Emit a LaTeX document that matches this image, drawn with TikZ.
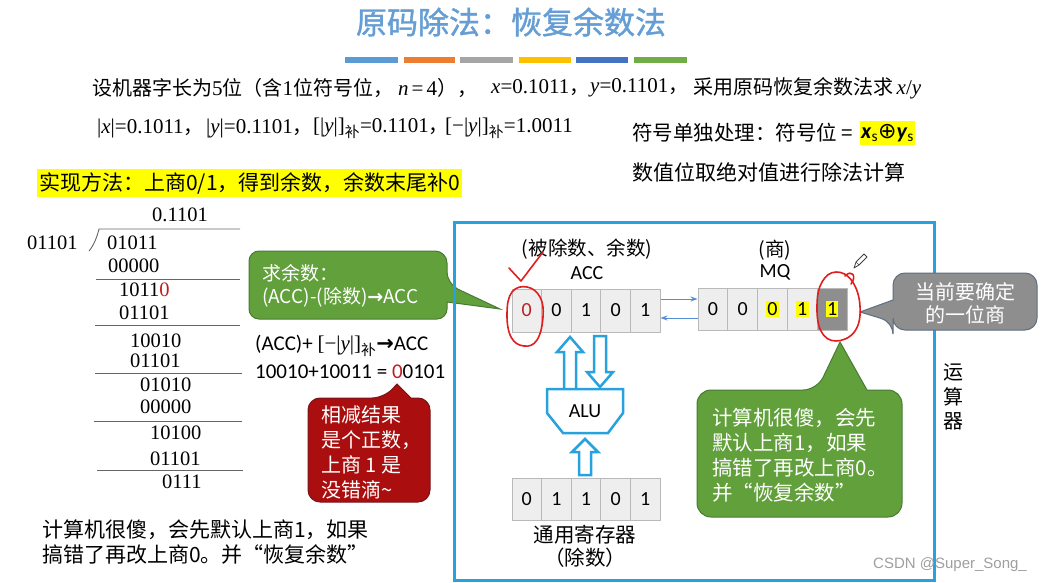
\documentclass[tikz,border=0pt]{standalone}
\usepackage{fontspec}
\setmainfont{Liberation Serif}
\newfontfamily\cjk{Noto Sans CJK SC}
\newfontfamily\cjkbold{Noto Sans CJK SC}[FakeBold=1.2]
\newfontfamily\calfont{Carlito}
\newfontfamily\dvfont{DejaVu Sans}
\newfontfamily\lsans{Liberation Sans}
\usetikzlibrary{arrows.meta}
\definecolor{titleblue}{RGB}{100,158,212}
\definecolor{boxblue}{RGB}{40,162,222}
\definecolor{arrblue}{RGB}{84,141,212}
\definecolor{cgreen}{RGB}{98,160,60}
\definecolor{cgreenb}{RGB}{72,122,52}
\definecolor{cred}{RGB}{170,14,14}
\definecolor{credb}{RGB}{120,20,30}
\definecolor{cgray}{RGB}{142,142,142}
\definecolor{cgrayb}{RGB}{95,110,130}
\definecolor{hl}{RGB}{255,255,0}
\definecolor{penred}{RGB}{225,30,30}
\definecolor{numred}{RGB}{190,30,30}
\definecolor{cellfill}{RGB}{238,238,238}
\definecolor{cellline}{RGB}{185,185,185}
\definecolor{barA}{RGB}{91,155,213}
\definecolor{barB}{RGB}{237,125,49}
\definecolor{barC}{RGB}{165,165,165}
\definecolor{barD}{RGB}{255,192,0}
\definecolor{barE}{RGB}{68,114,196}
\definecolor{barF}{RGB}{112,173,71}
\newcommand\hld[1]{{\setlength{\fboxsep}{1.2pt}\colorbox{hl}{#1}}}
\tikzset{
  txt/.style={inner sep=0pt, anchor=west},
  ctr/.style={inner sep=0pt},
  seg/.style={txt, font=\fontsize{21}{24}\selectfont},
  cell/.style={draw=cellline, fill=cellfill, line width=1pt, inner sep=0pt,
    minimum width=29.6pt, minimum height=43pt, font=\calfont\fontsize{20}{24}\selectfont},
  mqcell/.style={cell, minimum width=29.8pt, minimum height=42pt},
  hollow/.style={draw=boxblue, fill=white, line width=2.5pt, line join=miter},
  pen/.style={draw=penred, line width=1.6pt, line cap=round, line join=round},
  divline/.style={draw=gray!80!black, line width=0.9pt},
  num/.style={txt, font=\fontsize{20.5}{24}\selectfont},
}
\newcommand\zh[1]{{\cjk\fontsize{20}{24}\selectfont #1}}
\begin{document}
\begin{tikzpicture}[x=1pt,y=-1pt]
\useasboundingbox[fill=white] (0,0) rectangle (1050,583);

% title and bars
\node[ctr, text=titleblue, font=\cjkbold\fontsize{31}{36}\selectfont] (title) at (511,22) {原码除法：恢复余数法};
\fill[barA] (345,57) rectangle (398,63);
\fill[barB] (404,57) rectangle (455,63);
\fill[barC] (460,57) rectangle (513,63);
\fill[barD] (519,57) rectangle (571,63);
\fill[barE] (576,57) rectangle (628,63);
\fill[barF] (634,57) rectangle (687,63);

% top text, line 1
\node[seg] (l1a) at (92,88) {\zh{设机器字长为}5\zh{位（含}1\zh{位符号位，}};
\node[seg] (l1b) at (398,88) {\textit{n}\hspace{3pt}=\hspace{3pt}4\zh{），}};
\node[seg] (l1c) at (491,88) {\textit{x}=0.1011\zh{，}};
\node[seg] (l1d) at (590,88) {\textit{y}=0.1101\zh{，}};
\node[seg] (l1e) at (693,88) {\zh{采用原码恢复余数法求}\,\textit{x}/\textit{y}};
% line 2
\node[seg] (l2a) at (97,128) {|\textit{x}|=0.1011\zh{，}};
\node[seg] (l2b) at (206,128) {|\textit{y}|=0.1101\zh{，}};
\node[seg] (l2c) at (313,128) {[|\textit{y}|]\textsubscript{\cjk 补}=0.1101\zh{，}};
\node[seg] (l2d) at (445,128) {[−|\textit{y}|]\textsubscript{\cjk 补}=1.0011};

\node[txt, font=\cjk\fontsize{20.5}{24}\selectfont] (sym) at (632,133) {符号单独处理：符号位 =};
\node[anchor=west, fill=hl, inner xsep=1pt, inner ysep=3pt, font=\calfont\fontsize{22}{24}\selectfont] (xor) at (860,133) {\textbf{\textit{x}}\textsubscript{s}{\dvfont ⊕}\textbf{\textit{y}}\textsubscript{s}};
\node[txt, font=\cjk\fontsize{21}{24}\selectfont] (absv) at (632,172) {数值位取绝对值进行除法计算};
\node[txt, fill=hl, inner xsep=2pt, inner ysep=3pt, font=\cjk\fontsize{21}{24}\selectfont] (method) at (37,183) {实现方法：上商0/1，得到余数，余数末尾补0};

% long division
\node[num] (q) at (152,215) {0.1101};
\node[num] (dvs) at (27,243) {01101};
\node[num] (r1) at (107,243) {01011};
\node[num] (r2) at (108,266) {00000};
\node[num] (r3) at (119,290) {1011\textcolor{numred}{0}};
\node[num] (r4) at (119,313) {01101};
\node[num] (r5) at (130,341) {10010};
\node[num] (r6) at (130,361) {01101};
\node[num] (r7) at (140,385) {01010};
\node[num] (r8) at (140,407) {00000};
\node[num] (r9) at (150,433) {10100};
\node[num] (r10) at (150,459) {01101};
\node[num] (r11) at (162,482) {0111};
\draw[divline] (89,251) .. controls (94,245) and (97,237) .. (99,229) -- (240,229);
\draw[divline] (96,279) -- (240,279);
\draw[divline] (95,325) -- (240,325);
\draw[divline] (95,373) -- (242,373);
\draw[divline] (94,421) -- (242,421);
\draw[divline] (97,470) -- (243,470);

\node[txt, align=left, font=\cjk\fontsize{21}{25}\selectfont] (note) at (42,542) {计算机很傻，会先默认上商1，如果\\搞错了再改上商0。并“恢复余数”};

% formulas
\node[txt, font=\fontsize{21}{24}\selectfont] (f1) at (255,346) {{\calfont (ACC)+ }[−|\textit{y}|]\textsubscript{\cjk 补}{\dvfont\bfseries →}{\calfont ACC}};
\node[txt, font=\calfont\fontsize{21}{24}\selectfont] (f2) at (255,372) {10010+10011 = \textcolor{numred}{0}0101};

% red callout
\draw[fill=cred, draw=credb, line width=1pt, rounded corners=12] (308,398) -- (384,398) [sharp corners] -- (397,384) -- (411,398) [rounded corners=12] -- (430,398) -- (430,502) -- (308,502) -- cycle;
\node[txt, align=left, text=white, font=\cjk\fontsize{20}{25}\selectfont] (rtxt) at (321,452) {相减结果\\是个正数，\\上商 1 是\\没错滴\char"7E};

% green callout 1
\draw[fill=cgreen, draw=cgreenb, line width=1pt, rounded corners=12] (249,251) -- (447,251) -- (447,284) [sharp corners] -- (500,309) -- (447,302) [rounded corners=10] -- (447,319) -- (249,319) -- cycle;
\node[txt, align=left, text=white, font=\cjk\fontsize{19}{23}\selectfont] (gtxt1) at (262,286) {求余数：\\(ACC)-(除数){\dvfont\bfseries →}ACC};

% arithmetic unit box
\draw[boxblue, line width=3pt] (454,222) rectangle (934,580);
\node[ctr, align=center, font=\cjk\fontsize{20}{24.5}\selectfont] (ysq) at (953,397) {运\\算\\器};

% ACC
\node[ctr, font=\cjk\fontsize{19.5}{24}\selectfont] (acclab) at (587,249) {(被除数、余数)};
\node[ctr, font=\calfont\fontsize{20}{24}\selectfont] (accn) at (587,273) {ACC};
\node[cell] (acc1) at (526.8,310.5) {\textcolor{numred}{0}};
\node[cell] (acc2) at (556.4,310.5) {0};
\node[cell] (acc3) at (586.0,310.5) {1};
\node[cell] (acc4) at (615.6,310.5) {0};
\node[cell] (acc5) at (645.2,310.5) {1};

% MQ
\node[ctr, font=\cjk\fontsize{19.5}{24}\selectfont] (mqlab) at (775,250) {(商)};
\node[ctr, font=\calfont\fontsize{20}{24}\selectfont] (mqn) at (775,272) {MQ};
\node[mqcell] (mq1) at (712.9,309) {0};
\node[mqcell] (mq2) at (742.7,309) {0};
\node[mqcell] (mq3) at (772.5,309) {\hld{0}};
\node[mqcell] (mq4) at (802.3,309) {\hld{1}};
\node[mqcell, fill=cgray] (mq5) at (832.1,309) {\hld{1}};

\draw[arrblue, line width=1pt, -{Stealth[length=7pt,width=5pt]}] (acc5.east |- 0,299) -- (mq1.west |- 0,299);
\draw[arrblue, line width=1pt, -{Stealth[length=7pt,width=5pt]}] (mq1.west |- 0,318) -- (acc5.east |- 0,318);

% hollow arrows and ALU
\draw[hollow] (564,389) -- (564,352) -- (557,352) -- (570,337) -- (583,352) -- (576,352) -- (576,389);
\draw[hollow] (594,336) -- (594,372) -- (587,372) -- (600,387) -- (613,372) -- (606,372) -- (606,336) -- cycle;
\draw[hollow] (579,475) -- (579,452) -- (572,452) -- (585,439) -- (598,452) -- (591,452) -- (591,475) -- cycle;
\draw[hollow] (547,389) -- (623,389) -- (623,413) -- (608,433) -- (563,433) -- (547,413) -- cycle;
\node[ctr, font=\calfont\fontsize{20}{24}\selectfont] (alu) at (585,411) {ALU};

% general register
\node[mqcell, minimum width=29.6pt] (g1) at (526.8,499) {0};
\node[mqcell, minimum width=29.6pt] (g2) at (556.4,499) {1};
\node[mqcell, minimum width=29.6pt] (g3) at (586.0,499) {1};
\node[mqcell, minimum width=29.6pt] (g4) at (615.6,499) {0};
\node[mqcell, minimum width=29.6pt] (g5) at (645.2,499) {1};
\node[ctr, font=\cjk\fontsize{20.5}{24}\selectfont] (reglab) at (585,535) {通用寄存器};
\node[ctr, font=\cjk\fontsize{20.5}{24}\selectfont] (reglab2) at (585,558) {（除数）};

% gray callout
\draw[fill=cgray, draw=cgrayb, line width=1pt, rounded corners=12] (893,300) -- (893,273) -- (1037,273) -- (1037,330) -- (893,330) -- (893,322) [sharp corners] -- (860,312) -- cycle;
\node[ctr, align=center, text=white, font=\cjk\fontsize{20}{23}\selectfont] (gytxt) at (965,303) {当前要确定\\的一位商};

% green callout 2
\draw[fill=cgreen, draw=cgreenb, line width=1pt, rounded corners=14] (697,390) -- (817,390) [sharp corners] -- (840,342) -- (867,390) [rounded corners=14] -- (902,390) -- (902,517) -- (697,517) -- cycle;
\node[txt, align=left, text=white, font=\cjk\fontsize{20.5}{25}\selectfont] (gtxt2) at (712,455) {计算机很傻，会先\\默认上商1，如果\\搞错了再改上商0。\\并“恢复余数”};

% red pen marks
\draw[pen] (509,268) -- (521,281) -- (543,252);
\draw[pen] plot[smooth cycle, tension=0.7] coordinates {(527,287) (540,297) (543,317) (537,340) (524,346) (511,337) (507,313) (512,292)};
\draw[pen] plot[smooth cycle, tension=0.7] coordinates {(836,272) (852,281) (860,306) (855,331) (836,341) (821,331) (817,305) (822,282)};
\draw[pen] (845,276) .. controls (852,269) and (857,276) .. (851,284);

% pencil cursor
\draw[gray!50!black, line width=0.8pt, line join=round] (854,268) -- (856,262) -- (864,254) -- (867,257) -- (859,265) -- cycle;
\draw[gray!50!black, line width=0.6pt] (856,262) -- (859,265);

% watermark
\node[txt, text=gray!75, font=\lsans\fontsize{15}{18}\selectfont] (wm) at (873,565) {CSDN @Super\_Song\_};
\end{tikzpicture}
\end{document}
